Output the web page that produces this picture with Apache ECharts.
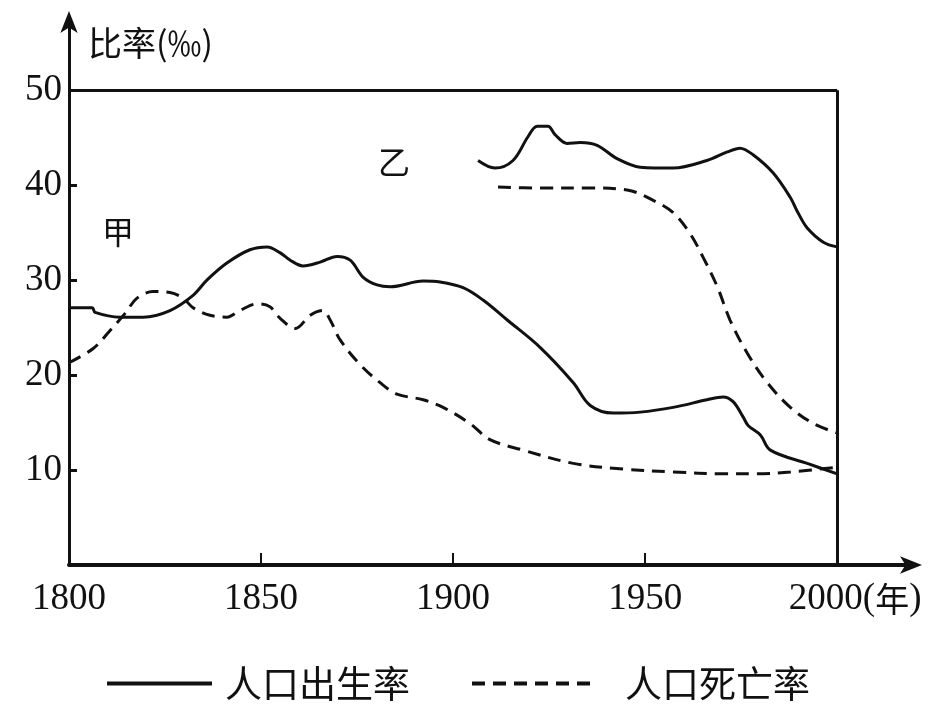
<!DOCTYPE html>
<html>
<head>
<meta charset="utf-8">
<script src="https://cdn.jsdelivr.net/npm/echarts@6/dist/echarts.min.js"></script>
<style>
html,body{margin:0;padding:0;background:#fff;}
#c{width:929px;height:706px;}
</style>
</head>
<body>
<div id="c"></div>
<script>
// ---- data (year, ‰) ----
const jiaBirthYears = [1800,1806,1806.8,1813.3,1819.3,1826.3,1832.3,1835.9,1841.1,1847.1,1851.6,1854.9,1857.6,1860.9,1865.4,1869.8,1873.2,1876.6,1880.2,1883.6,1892.2,1896.6,1902.6,1907.8,1914.1,1922.7,1931.3,1935.7,1941.7,1948.7,1957.3,1966.1,1970.3,1972.9,1975.5,1976.8,1980,1982.6,1992.2,2000];
const jiaBirthVals  = [27.1,27.1,26.6,26.1,26.1,26.8,28.4,30.0,31.8,33.2,33.5,32.9,32.1,31.5,31.9,32.5,32.1,30.3,29.5,29.3,29.9,29.8,29.2,27.9,25.8,22.9,19.2,16.8,16.0,16.1,16.6,17.4,17.7,17.2,15.6,14.7,13.7,12.1,10.7,9.6];

const jiaDeathYears = [1800,1806.3,1810.7,1814.6,1817.7,1821.9,1826.3,1829.7,1832.3,1836.7,1841.1,1844.5,1849,1852.3,1854.9,1858.9,1862.8,1866.1,1868,1870.6,1875.8,1881,1885.4,1892.2,1897.4,1904.4,1909.6,1918.2,1931.3,1944.3,1957.3,1970.3,1979.2,1987.8,2000];
const jiaDeathVals  = [21.3,22.8,24.7,26.5,28.1,28.8,28.7,28.1,27.1,26.3,26.1,26.8,27.5,27.2,26.0,24.9,26.3,26.8,25.8,23.7,21.1,19.2,18.0,17.4,16.6,14.9,13.2,12.1,10.7,10.1,9.8,9.6,9.6,9.8,10.3];

const yiBirthYears = [1906.5,1910.9,1915.6,1919.5,1921.9,1924.7,1926.6,1929.7,1933.1,1937.5,1942.7,1948.7,1957.3,1966.1,1971.4,1974.7,1978.1,1983.3,1987.8,1989.8,1992.2,1996.4,2000];
const yiBirthVals  = [42.6,41.8,42.6,45.1,46.2,46.2,45.3,44.4,44.5,44.2,42.8,41.9,41.8,42.6,43.5,43.9,43.2,41.3,38.7,37.1,35.5,34.0,33.5];

const yiDeathYears = [1911.7,1922.7,1935.7,1945.3,1952.1,1957.3,1961.7,1965.1,1968.8,1972.1,1976.6,1981.8,1987.8,1993.8,2000];
const yiDeathVals  = [39.8,39.7,39.7,39.5,38.4,37.1,34.9,32.4,29.3,25.8,22.3,19.2,16.6,14.9,13.9];

const xTickLabels = [1800,1850,1900,1950,2000];
const xTickMarks  = [1850,1900,1950];
const yTickLabels = [10,20,30,40,50];
const yTickMarks  = [10,20,30,40];

const birthName = '人口出生率';
const deathName = '人口死亡率';

function zip(xs, ys){ return xs.map((x,i)=>[x, ys[i]]); }

const serif = '"Liberation Serif","Times New Roman",serif';
const cjk = '"Noto Sans CJK SC","Noto Sans",sans-serif';

const solid = {color:'#111', width:3, type:'solid'};
const dashed = {color:'#111', width:3, type:[13,8]};

const chart = echarts.init(document.getElementById('c'), null, {renderer:'canvas'});
chart.setOption({
  animation:false,
  backgroundColor:'#fff',
  grid:{left:69, right:15, top:19, bottom:141},
  xAxis:{
    type:'value', min:1800, max:2020,
    splitLine:{show:false},
    axisLine:{show:true, lineStyle:{color:'#111', width:4}, symbol:['none','arrow'], symbolSize:[13,22], symbolOffset:[0,8]},
    axisTick:{show:true, inside:true, length:12, lineStyle:{color:'#111', width:2}, customValues:xTickMarks},
    axisLabel:{
      customValues:xTickLabels, margin:16, color:'#111', fontFamily:serif, fontSize:37,
      formatter:function(v){ return v===2000 ? '{a0|2000(}{b|年}{a|)}' : String(v); },
      rich:{
        a0:{fontFamily:serif, fontSize:37, color:'#111', padding:[0,0,0,36]},
        a:{fontFamily:serif, fontSize:37, color:'#111'},
        b:{fontFamily:cjk, fontSize:34, color:'#111'}
      }
    }
  },
  yAxis:{
    type:'value', min:0, max:57.5,
    splitLine:{show:false},
    name:'比率(‰)', nameLocation:'end', nameGap:-24,
    nameTextStyle:{fontFamily:cjk, fontSize:34, color:'#111', align:'left', verticalAlign:'middle', padding:[0,0,0,19]},
    axisLine:{show:true, lineStyle:{color:'#111', width:3}, symbol:['none','arrow'], symbolSize:[13,22], symbolOffset:[0,8]},
    axisTick:{show:true, inside:true, length:8, lineStyle:{color:'#111', width:3}, customValues:yTickMarks},
    axisLabel:{customValues:yTickLabels, margin:7, color:'#111', fontFamily:serif, fontSize:37}
  },
  legend:[
    {data:[birthName], left:100, top:660, itemWidth:105, itemHeight:14,
     itemStyle:{opacity:0}, lineStyle:{width:4},
     textStyle:{fontFamily:cjk, fontSize:37, color:'#111', padding:[0,0,0,8]}},
    {data:[deathName], left:465, top:660, itemWidth:120, itemHeight:14,
     itemStyle:{opacity:0}, lineStyle:{width:4},
     textStyle:{fontFamily:cjk, fontSize:37, color:'#111', padding:[0,0,0,28]}}
  ],
  graphic:[
    {type:'text', left:102, top:216, style:{text:'甲', font:'32px "Noto Sans CJK SC"', fill:'#111'}},
    {type:'text', left:378, top:146, style:{text:'乙', font:'32px "Noto Sans CJK SC"', fill:'#111'}}
  ],
  series:[
    {name:birthName, type:'line', data:zip(jiaBirthYears, jiaBirthVals), smooth:0.35, symbol:'none', lineStyle:solid, itemStyle:{color:'#111'},
     markLine:{silent:true, symbol:'none', label:{show:false}, lineStyle:{color:'#111', width:3, type:'solid'},
       data:[[{coord:[1800,50]},{coord:[2000,50]}],[{coord:[2000,50]},{coord:[2000,0]}]]}},
    {name:deathName, type:'line', data:zip(jiaDeathYears, jiaDeathVals), smooth:0.35, symbol:'none', lineStyle:dashed, itemStyle:{color:'#111'}},
    {name:birthName, type:'line', data:zip(yiBirthYears, yiBirthVals), smooth:0.35, symbol:'none', lineStyle:solid, itemStyle:{color:'#111'}},
    {name:deathName, type:'line', data:zip(yiDeathYears, yiDeathVals), smooth:0.35, symbol:'none', lineStyle:dashed, itemStyle:{color:'#111'}}
  ]
});
</script>
</body>
</html>
